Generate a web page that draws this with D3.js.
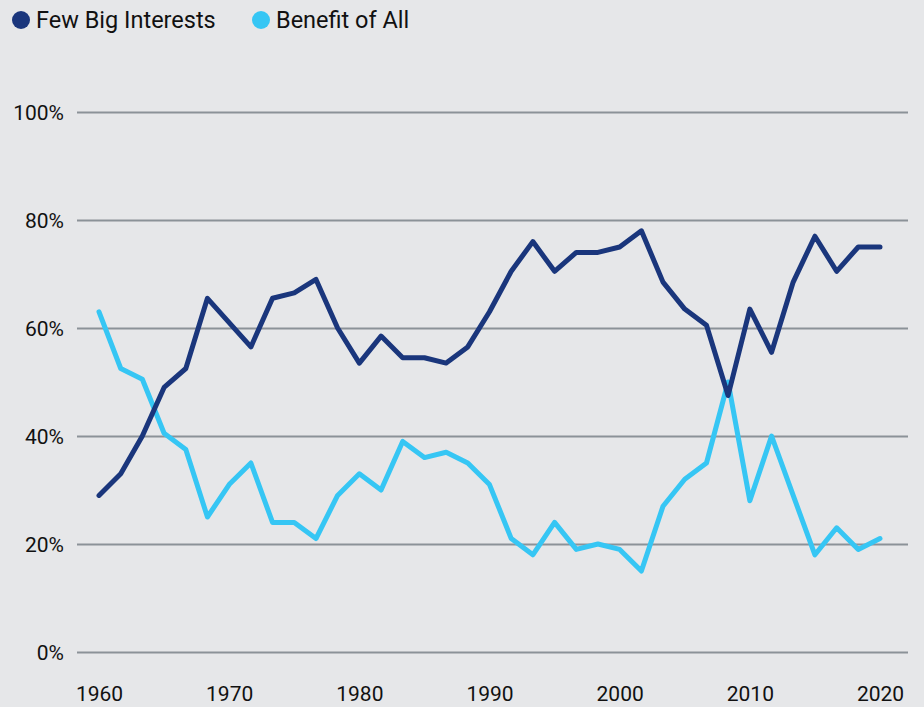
<!DOCTYPE html>
<html>
<head>
<meta charset="utf-8">
<script src="https://cdn.jsdelivr.net/npm/d3@7"></script>
<style>
  html, body { margin: 0; padding: 0; background: #e6e7e9; }
  svg { display: block; }
  text { font-family: Roboto, "Noto Sans", sans-serif; fill: #111; }
</style>
</head>
<body>
<svg id="chart" width="924" height="707"></svg>
<script>
// Survey points (evenly spaced from 1960 to 2020)
const years = [1960, 1961.67, 1963.33, 1965, 1966.67, 1968.33, 1970, 1971.67, 1973.33, 1975,
  1976.67, 1978.33, 1980, 1981.67, 1983.33, 1985, 1986.67, 1988.33, 1990, 1991.67,
  1993.33, 1995, 1996.67, 1998.33, 2000, 2001.67, 2003.33, 2005, 2006.67, 2008.33,
  2010, 2011.67, 2013.33, 2015, 2016.67, 2018.33, 2020];
const fewBigInterests = [29, 33, 40, 49, 52.5, 65.5, 61, 56.5, 65.5, 66.5,
  69, 60, 53.5, 58.5, 54.5, 54.5, 53.5, 56.5, 63, 70.5,
  76, 70.5, 74, 74, 75, 78, 68.5, 63.5, 60.5, 47.5,
  63.5, 55.5, 68.5, 77, 70.5, 75, 75];
const benefitOfAll = [63, 52.5, 50.5, 40.5, 37.5, 25, 31, 35, 24, 24,
  21, 29, 33, 30, 39, 36, 37, 35, 31, 21,
  18, 24, 19, 20, 19, 15, 27, 32, 35, 50,
  28, 40, 29, 18, 23, 19, 21];
const seriesNames = ["Few Big Interests", "Benefit of All"];
const seriesColors = ["#1a367c", "#36c6f4"];
const yTicks = [0, 20, 40, 60, 80, 100];
const xTicks = [1960, 1970, 1980, 1990, 2000, 2010, 2020];

const svg = d3.select("#chart");
const x = d3.scaleLinear().domain([1960, 2020]).range([99, 880]);
const y = d3.scaleLinear().domain([0, 100]).range([652, 112]);

// Gridlines + y labels
const yAxis = d3.axisLeft(y).tickValues(yTicks).tickSize(-831).tickFormat(d => d + "%").tickPadding(12);
const gy = svg.append("g").attr("transform", "translate(908,0)").call(yAxis);
gy.select(".domain").remove();
gy.selectAll(".tick line").attr("stroke", "#8b9298").attr("stroke-width", 2)
  .attr("x1", -831).attr("x2", 0);
gy.selectAll(".tick text").attr("x", -844).attr("text-anchor", "end")
  .style("font-size", "21px").attr("dy", "0.36em").attr("fill", "#111");

// x labels
const xAxis = d3.axisBottom(x).tickValues(xTicks).tickSize(0).tickFormat(d3.format("d")).tickPadding(0);
const gx = svg.append("g").attr("transform", "translate(0,686)").call(xAxis);
gx.select(".domain").remove();
gx.selectAll(".tick text").style("font-size", "21px").attr("dy", "0.7em").attr("y", 0).attr("fill", "#111");

// Lines
const data = [fewBigInterests, benefitOfAll];
const line = d3.line().x((d, i) => x(years[i])).y(d => y(d));
[1, 0].forEach(k => {
  svg.append("path").datum(data[k])
    .attr("d", line)
    .attr("fill", "none")
    .attr("stroke", seriesColors[k])
    .attr("stroke-width", 5)
    .attr("stroke-linejoin", "round")
    .attr("stroke-linecap", "round");
});

// Legend
const legendX = [21, 261];
seriesNames.forEach((name, i) => {
  const g = svg.append("g").attr("transform", `translate(${legendX[i]},20)`);
  g.append("circle").attr("r", 9).attr("fill", seriesColors[i]);
  g.append("text").attr("x", 15).attr("dy", "0.36em").style("font-size", "23.5px").text(name);
});
</script>
</body>
</html>
